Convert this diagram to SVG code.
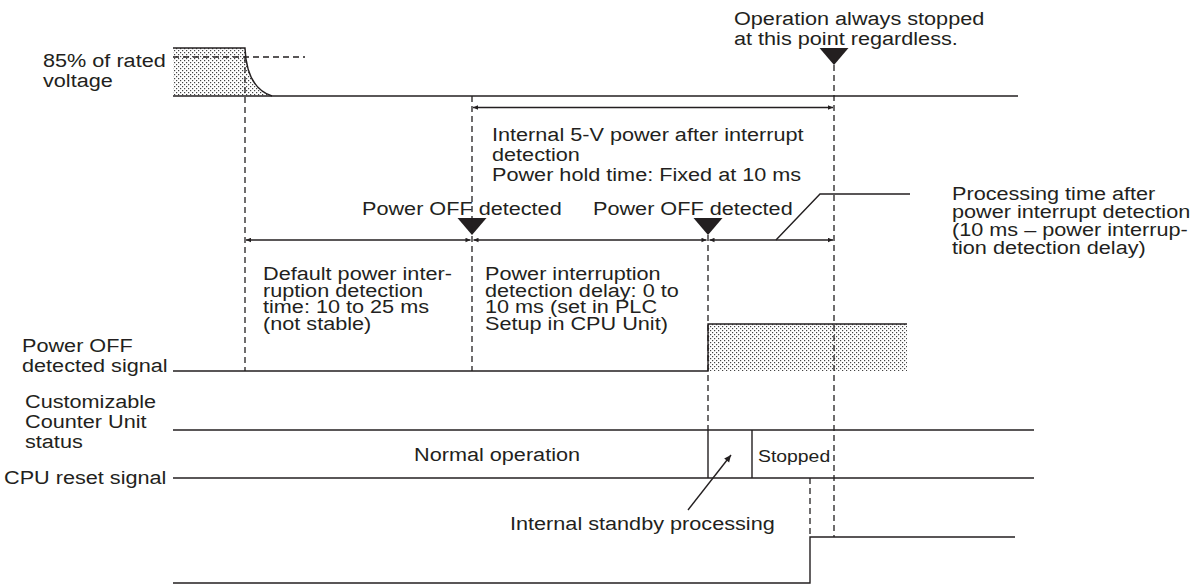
<svg xmlns="http://www.w3.org/2000/svg" width="1201" height="584" viewBox="0 0 1201 584">
<defs>
<pattern id="dots" width="4" height="4" patternUnits="userSpaceOnUse">
<rect width="4" height="4" fill="#fff"/>
<rect x="0" y="0" width="1.2" height="1.2" fill="#444"/>
<rect x="2" y="2" width="1.2" height="1.2" fill="#444"/>
</pattern>
<marker id="ah" viewBox="0 0 10 10" refX="10" refY="5" markerWidth="8" markerHeight="5" markerUnits="userSpaceOnUse" orient="auto-start-reverse">
<path d="M0,0.5 L10,5 L0,9.5 z" fill="#231f20"/>
</marker>
<marker id="ah2" viewBox="0 0 10 10" refX="10" refY="5" markerWidth="10" markerHeight="7" markerUnits="userSpaceOnUse" orient="auto">
<path d="M0,0.5 L10,5 L0,9.5 z" fill="#231f20"/>
</marker>
</defs>
<style>
text{font-family:"Liberation Sans",Arial,sans-serif;font-size:19px;fill:#231f20}
.sm{font-size:17px}
.ln{stroke:#231f20;stroke-width:1.4;fill:none}
.ds{stroke:#231f20;stroke-width:1.3;fill:none;stroke-dasharray:6 4}
.tri{fill:#231f20}
.dim{stroke:#231f20;stroke-width:1.3;fill:none;marker-start:url(#ah);marker-end:url(#ah)}
</style>
<rect width="1201" height="584" fill="#fff"/>

<g id="voltage">
<path d="M173,48 L245,48 C246,72 253,90 272,96 L173,96 Z" fill="url(#dots)"/>
<path class="ln" d="M173,48 L245,48 C246,72 253,90 272,96"/>
<line class="ln" x1="173" y1="96" x2="1018" y2="96"/>
<line class="ds" x1="173" y1="57" x2="305" y2="57"/>
<text transform="translate(43,67) scale(1.14,1)">85% of rated</text>
<text transform="translate(43,87) scale(1.14,1)">voltage</text>
</g>

<g id="power-off-signal">
<rect x="708" y="324" width="199" height="47" fill="url(#dots)"/>
<path class="ln" d="M173,371 L708,371 L708,324 L907,324"/>
<text transform="translate(22,352) scale(1.14,1)">Power OFF</text>
<text transform="translate(22,372) scale(1.14,1)">detected signal</text>
</g>

<g id="unit-status">
<line class="ln" x1="173" y1="430" x2="1034" y2="430"/>
<line class="ln" x1="173" y1="478" x2="1034" y2="478"/>
<line class="ln" x1="708" y1="430" x2="708" y2="478"/>
<line class="ln" x1="752" y1="430" x2="752" y2="478"/>
<text transform="translate(25,408) scale(1.14,1)">Customizable</text>
<text transform="translate(25,428) scale(1.14,1)">Counter Unit</text>
<text transform="translate(25,448) scale(1.14,1)">status</text>
<text transform="translate(414,461) scale(1.14,1)">Normal operation</text>
<text class="sm" transform="translate(758,462) scale(1.14,1)">Stopped</text>
</g>

<g id="cpu-reset">
<path class="ln" d="M173,583 L810,583 L810,537 L1015,537"/>
<text transform="translate(4,484) scale(1.14,1)">CPU reset signal</text>
</g>

<g id="stop-point">
<polygon class="tri" points="819.5,48 848.5,48 834,65"/>
<text transform="translate(734,25) scale(1.14,1)">Operation always stopped</text>
<text transform="translate(734,45) scale(1.14,1)">at this point regardless.</text>
</g>

<g id="detect-1">
<polygon class="tri" points="457.5,218 486.5,218 472,235"/>
<text transform="translate(362,215) scale(1.14,1)">Power OFF detected</text>
</g>

<g id="detect-2">
<polygon class="tri" points="693.5,218 722.5,218 708,235"/>
<text transform="translate(593,215) scale(1.14,1)">Power OFF detected</text>
</g>

<g id="label-hold">
<text transform="translate(492,141) scale(1.14,1)">Internal 5-V power after interrupt</text>
<text transform="translate(492,161) scale(1.14,1)">detection</text>
<text transform="translate(492,181) scale(1.14,1)">Power hold time: Fixed at 10 ms</text>
</g>

<g id="label-default">
<text transform="translate(263,280) scale(1.14,1)">Default power inter-</text>
<text transform="translate(263,296.5) scale(1.14,1)">ruption detection</text>
<text transform="translate(263,313) scale(1.14,1)">time: 10 to 25 ms</text>
<text transform="translate(263,329.5) scale(1.14,1)">(not stable)</text>
</g>

<g id="label-delay">
<text transform="translate(485,280) scale(1.14,1)">Power interruption</text>
<text transform="translate(485,296.5) scale(1.14,1)">detection delay: 0 to</text>
<text transform="translate(485,313) scale(1.14,1)">10 ms (set in PLC</text>
<text transform="translate(485,329.5) scale(1.14,1)">Setup in CPU Unit)</text>
</g>

<g id="label-processing">
<text transform="translate(952,200) scale(1.14,1)">Processing time after</text>
<text transform="translate(952,218) scale(1.14,1)">power interrupt detection</text>
<text transform="translate(952,236) scale(1.14,1)">(10 ms – power interrup-</text>
<text transform="translate(952,254) scale(1.14,1)">tion detection delay)</text>
</g>

<g id="label-standby">
<text transform="translate(510,530) scale(1.14,1)">Internal standby processing</text>
</g>

<g id="connectors">
<line class="ds" x1="245" y1="57" x2="245" y2="371"/>
<line class="ds" x1="472" y1="96" x2="472" y2="371"/>
<line class="ds" x1="708" y1="235" x2="708" y2="430"/>
<line class="ds" x1="834" y1="65" x2="834" y2="537"/>
<line class="ds" x1="810" y1="478" x2="810" y2="537"/>
<line class="dim" x1="473" y1="107.5" x2="833" y2="107.5"/>
<line class="dim" x1="246" y1="240" x2="470.5" y2="240"/>
<line class="dim" x1="473.5" y1="240" x2="706.5" y2="240"/>
<line class="dim" x1="709.5" y1="240" x2="833" y2="240"/>
<polyline class="ln" points="776,240 820,194 910,194"/>
<line class="ln" x1="688" y1="510" x2="731" y2="455" marker-end="url(#ah2)"/>
</g>
</svg>
